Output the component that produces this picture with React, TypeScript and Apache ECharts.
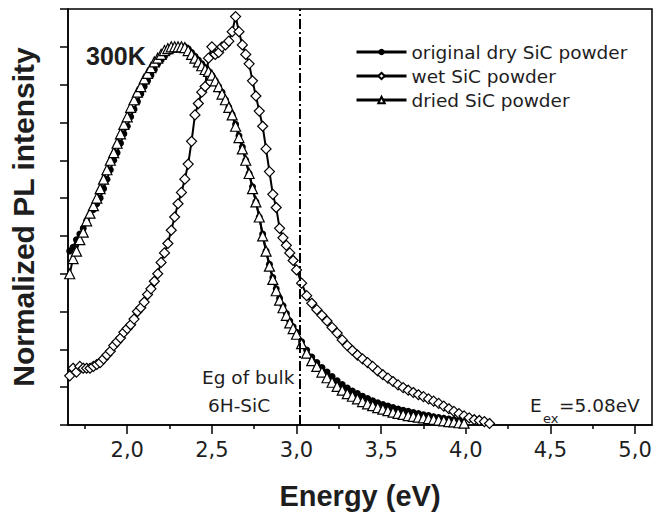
import React, { useEffect, useRef } from "react";
import * as echarts from "echarts";

const energy = [
  1.66, 1.68, 1.7, 1.72, 1.74, 1.76, 1.78, 1.8, 1.82, 1.84, 1.86, 1.88, 1.9, 1.92, 1.94, 1.96, 1.98,
  2.0, 2.02, 2.04, 2.06, 2.08, 2.1, 2.12, 2.14, 2.16, 2.18, 2.2, 2.22, 2.24, 2.26, 2.28, 2.3,
  2.32, 2.34, 2.36, 2.38, 2.4, 2.42, 2.44, 2.46, 2.48, 2.5, 2.52, 2.54, 2.56, 2.58, 2.6, 2.62,
  2.64, 2.66, 2.68, 2.7, 2.72, 2.74, 2.76, 2.78, 2.8, 2.82, 2.84, 2.86, 2.88, 2.9, 2.92, 2.94,
  2.96, 2.98, 3.0,
  3.03, 3.06, 3.09, 3.12, 3.15, 3.18, 3.21, 3.24, 3.27, 3.3, 3.33, 3.36, 3.39, 3.42, 3.45, 3.48,
  3.51, 3.54, 3.57, 3.6, 3.63, 3.66, 3.69, 3.72, 3.75, 3.78, 3.81, 3.84, 3.87, 3.9, 3.93, 3.96,
  3.99, 4.02, 4.05, 4.08, 4.11, 4.14,
];

const dryValues = [
  0.46, 0.47, 0.49, 0.505, 0.52, 0.54, 0.555, 0.57, 0.585, 0.6, 0.625, 0.65, 0.675, 0.7, 0.72, 0.745, 0.77,
  0.79, 0.815, 0.835, 0.855, 0.875, 0.895, 0.91, 0.925, 0.94, 0.955, 0.965, 0.975, 0.985, 0.99, 0.995, 0.998,
  1.0, 1.0, 0.995, 0.985, 0.975, 0.965, 0.955, 0.945, 0.935, 0.925, 0.91, 0.895, 0.88, 0.86, 0.84, 0.82,
  0.795, 0.765, 0.735, 0.7, 0.665, 0.63, 0.59, 0.55, 0.505, 0.46, 0.425, 0.39, 0.36, 0.335, 0.315, 0.295,
  0.275, 0.26, 0.245,
  0.22, 0.198, 0.18, 0.165, 0.152, 0.14, 0.128, 0.117, 0.107, 0.098, 0.09, 0.083, 0.076, 0.07, 0.064, 0.059,
  0.054, 0.05, 0.046, 0.042, 0.039, 0.036, 0.033, 0.03, 0.027, 0.025, 0.022, 0.02, 0.018, 0.016, 0.014, 0.012,
  null, null, null, null, null, null,
];

const wetValues = [
  0.13, 0.15, 0.14, 0.155, 0.15, 0.15, 0.15, 0.155, 0.16, 0.165, 0.175, 0.185, 0.195, 0.21, 0.22, 0.23, 0.245,
  0.255, 0.265, 0.28, 0.3, 0.31, 0.325, 0.345, 0.36, 0.38, 0.4, 0.43, 0.455, 0.48, 0.515, 0.55, 0.585,
  0.615, 0.65, 0.69, 0.75, 0.82, 0.85, 0.88, 0.895, 0.97, 1.0, 0.98, 0.985, 1.0, 1.005, 1.015, 1.04,
  1.08, 1.04, 1.005, 0.98, 0.955, 0.91, 0.87, 0.83, 0.79, 0.73, 0.67, 0.61, 0.575, 0.52, 0.495, 0.475,
  0.455, 0.435, 0.41,
  0.375, 0.342, 0.322, 0.305, 0.29, 0.275, 0.258, 0.243, 0.225, 0.21, 0.197, 0.185, 0.175, 0.165, 0.155, 0.143,
  0.133, 0.124, 0.115, 0.106, 0.099, 0.092, 0.086, 0.08, 0.075, 0.069, 0.063, 0.057, 0.05, 0.043, 0.036, 0.03,
  0.024, 0.019, 0.014, 0.012, 0.009, 0.004,
];

const driedValues = [
  0.4, 0.44, 0.46, 0.49, 0.51, 0.54, 0.56, 0.58, 0.6, 0.625, 0.65, 0.675, 0.7, 0.72, 0.745, 0.77, 0.795,
  0.815, 0.84, 0.86, 0.88, 0.895, 0.915, 0.93, 0.945, 0.96, 0.97, 0.98, 0.99, 0.995, 1.0, 1.0, 1.0,
  1.0, 0.998, 0.99, 0.98, 0.97, 0.96, 0.95, 0.94, 0.935, 0.925, 0.91, 0.895, 0.875, 0.86, 0.84, 0.82,
  0.79, 0.76, 0.73, 0.7, 0.665, 0.625, 0.59, 0.55, 0.5, 0.46, 0.42, 0.385, 0.355, 0.33, 0.31, 0.29,
  0.27, 0.255, 0.24,
  0.215, 0.19, 0.17, 0.155, 0.14, 0.125, 0.113, 0.102, 0.092, 0.083, 0.076, 0.069, 0.062, 0.056, 0.051, 0.046,
  0.042, 0.038, 0.034, 0.031, 0.028, 0.025, 0.023, 0.021, 0.019, 0.017, 0.015, 0.013, 0.011, 0.009, 0.008, 0.006,
  0.005, null, null, null, null, null,
];

const seriesNames = ["original dry SiC powder", "wet SiC powder", "dried SiC powder"];
const majorTicks = [2.0, 2.5, 3.0, 3.5, 4.0, 4.5, 5.0];
const minorTicks = [1.75, 2.25, 2.75, 3.25, 3.75, 4.25, 4.75];
const xMin = 1.65;
const xMax = 5.1;
const yMin = 0;
const yMax = 1.1;
const yInterval = 0.1;
const bandGapEnergy = 3.02;

const INK = "#1e1e1e";
const SANS = "DejaVu Sans";
const BOLD = "Liberation Sans";

function pairs(vals: (number | null)[]) {
  const out: [number, number][] = [];
  energy.forEach((e, i) => {
    const v = vals[i];
    if (v !== null && v !== undefined) out.push([e, v]);
  });
  return out;
}

export default function App() {
  const ref = useRef<HTMLDivElement>(null);
  useEffect(() => {
    if (!ref.current) return;
    const chart = echarts.init(ref.current, undefined, { renderer: "svg" });
    const lineStyle = { color: "#000", width: 2 };
    const hollow = { color: "#fff", borderColor: "#000", borderWidth: 1.2 };
    chart.setOption({
      animation: false,
      backgroundColor: "#fff",
      grid: {
        left: 67,
        top: 9,
        right: 13,
        bottom: 84,
        show: true,
        borderColor: "#000",
        borderWidth: 1.5,
        backgroundColor: "transparent",
      },
      legend: {
        orient: "vertical",
        left: 350,
        top: 37,
        itemWidth: 50,
        itemHeight: 8,
        itemGap: 4,
        selectedMode: false,
        lineStyle: { width: 3 },
        textStyle: { fontFamily: SANS, fontSize: 18.5, color: INK, lineHeight: 20 },
        data: seriesNames,
      },
      xAxis: [
        {
          type: "value",
          min: xMin,
          max: xMax,
          position: "bottom",
          name: "Energy (eV)",
          nameLocation: "middle",
          nameGap: 56,
          nameTextStyle: { fontFamily: BOLD, fontWeight: "bold", fontSize: 29, color: INK },
          axisLine: { show: true, lineStyle: { color: "#000", width: 1.5 } },
          axisTick: { show: true, inside: false, length: 9, customValues: majorTicks, lineStyle: { color: "#000", width: 1.5 } },
          axisLabel: {
            show: true,
            customValues: majorTicks,
            margin: 14,
            fontFamily: SANS,
            fontSize: 21,
            color: INK,
            formatter: (v: number) => v.toFixed(1).replace(".", ","),
          },
          splitLine: { show: false },
        },
        {
          type: "value",
          min: xMin,
          max: xMax,
          position: "bottom",
          axisLine: { show: false },
          axisTick: { show: true, inside: false, length: 4, customValues: minorTicks, lineStyle: { color: "#000", width: 1.5 } },
          axisLabel: { show: false },
          splitLine: { show: false },
        },
      ],
      yAxis: {
        type: "value",
        min: yMin,
        max: yMax,
        interval: yInterval,
        name: "Normalized PL intensity",
        nameLocation: "middle",
        nameGap: 30,
        nameTextStyle: { fontFamily: BOLD, fontWeight: "bold", fontSize: 30, color: INK },
        axisLine: { show: true, lineStyle: { color: "#000", width: 1.5 } },
        axisTick: { show: true, inside: false, length: 8, lineStyle: { color: "#000", width: 1.5 } },
        axisLabel: { show: false },
        splitLine: { show: false },
      },
      series: [
        {
          name: seriesNames[0],
          type: "line",
          data: pairs(dryValues),
          symbol: "circle",
          symbolSize: 7,
          showAllSymbol: true,
          itemStyle: { color: "#000" },
          lineStyle,
          markLine: {
            silent: true,
            symbol: "none",
            label: { show: false },
            lineStyle: { color: "#000", width: 2, type: [10, 3, 2, 3] },
            data: [{ xAxis: bandGapEnergy }],
          },
        },
        {
          name: seriesNames[1],
          type: "line",
          data: pairs(wetValues),
          symbol: "diamond",
          symbolSize: 10,
          showAllSymbol: true,
          itemStyle: hollow,
          lineStyle,
        },
        {
          name: seriesNames[2],
          type: "line",
          data: pairs(driedValues),
          symbol: "triangle",
          symbolSize: 10,
          showAllSymbol: true,
          itemStyle: hollow,
          lineStyle,
        },
      ],
      graphic: [
        { type: "text", left: 86, top: 43, style: { text: "300K", fontFamily: BOLD, fontWeight: "bold", fontSize: 25, fill: INK } },
        { type: "text", x: 202, y: 377, style: { text: "Eg of bulk", fontFamily: SANS, fontSize: 18.5, fill: INK, verticalAlign: "middle" } },
        { type: "text", x: 208, y: 405, style: { text: "6H-SiC", fontFamily: SANS, fontSize: 18.5, fill: INK, verticalAlign: "middle" } },
        { type: "text", x: 530, y: 405.5, style: { text: "E", fontFamily: SANS, fontSize: 18.5, fill: INK, verticalAlign: "middle" } },
        { type: "text", x: 543, y: 418, style: { text: "ex", fontFamily: SANS, fontSize: 13, fill: INK, verticalAlign: "middle" } },
        { type: "text", x: 559, y: 405.5, style: { text: "=5.08eV", fontFamily: SANS, fontSize: 18.5, fill: INK, verticalAlign: "middle" } },
      ],
    });
    return () => chart.dispose();
  }, []);
  return <div ref={ref} style={{ position: "fixed", left: 0, top: 0, width: 665, height: 515 }} />;
}
